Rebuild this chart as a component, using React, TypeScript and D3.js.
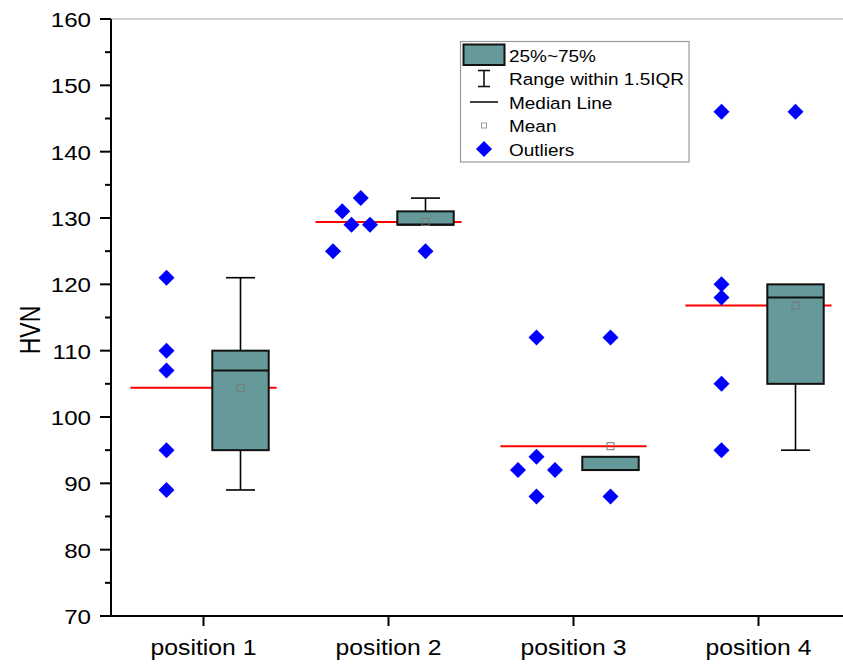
import React from "react";
import * as d3 from "d3";

const categories = ["position 1", "position 2", "position 3", "position 4"];
const dataPoints = [
  [121, 110, 107, 95, 89],
  [125, 131, 129, 133, 129],
  [112, 94, 92, 92, 88],
  [146, 120, 118, 105, 95],
];
const jitterSlots = [
  [0, 0, 0, 0, 0],
  [-2, -1, 0, 1, 2],
  [0, 0, -2, 2, 0],
  [0, 0, 0, 0, 0],
];
const q1 = [95, 129, 92, 105];
const median = [107, 129, 92, 118];
const q3 = [110, 131, 94, 120];
const whiskerLow = [89, 129, 92, 95];
const whiskerHigh = [121, 133, 94, 120];
const means = [104.4, 129.4, 95.6, 116.8];
const outliers = [[], [125], [112, 88], [146]];
const legendLabels = ["25%~75%", "Range within 1.5IQR", "Median Line", "Mean", "Outliers"];
const yTickLabels = [70, 80, 90, 100, 110, 120, 130, 140, 150, 160];

const W = 843;
const H = 664;
const left = 111;
const top = 19;
const bottom = 616;
const SX = 1.15;
const FONT = "'Liberation Sans', Arial, sans-serif";
const BOX_FILL = "#669999";

const x = d3.scaleLinear().domain([0.5, 4.5]).range([left, 851]);
const y = d3.scaleLinear().domain([70, 160]).range([bottom, top]);
const u = (v: number) => x(v) - x(0);

function T({ x: tx, y: ty, size, anchor = "start", children, rotate = 0, sx = SX }: any) {
  return (
    <g transform={`translate(${tx},${ty}) scale(${sx},1)${rotate ? ` rotate(${rotate})` : ""}`}>
      <text
        fontFamily={FONT}
        fontSize={size}
        textAnchor={anchor}
        dominantBaseline="central"
        fill="#000"
      >
        {children}
      </text>
    </g>
  );
}

function Diamond({ cx, cy, r = 8 }: any) {
  return <path d={`M${cx},${cy - r}L${cx + r},${cy}L${cx},${cy + r}L${cx - r},${cy}Z`} fill="#0000ff" />;
}

export default function App() {
  const minorTicks = d3.range(75, 160, 10);
  const lgX = 484;
  const rowY = (i: number) => 55 + i * 23.5;
  return (
    <svg width={W} height={H} style={{ position: "absolute", left: 0, top: 0, background: "#fff" }}>
      <rect x={0} y={0} width={W} height={H} fill="#fff" />
      {/* top frame */}
      <line x1={left} x2={W} y1={top} y2={top} stroke="#aaa" strokeWidth={1.2} />

      {/* red mean lines */}
      {categories.map((c, i) => (
        <line
          key={"m" + c}
          x1={x(i + 1) - u(0.395)}
          x2={x(i + 1) + u(0.395)}
          y1={y(means[i])}
          y2={y(means[i])}
          stroke="#ff0000"
          strokeWidth={2}
        />
      ))}

      {/* boxes */}
      {categories.map((c, i) => {
        const cx = x(i + 1 + 0.2);
        const bw = u(0.305);
        const cw = u(0.157);
        return (
          <g key={"b" + c}>
            {whiskerHigh[i] > q3[i] && (
              <g stroke="#000" strokeWidth={1.6}>
                <line x1={cx} x2={cx} y1={y(q3[i])} y2={y(whiskerHigh[i])} />
                <line x1={cx - cw / 2} x2={cx + cw / 2} y1={y(whiskerHigh[i])} y2={y(whiskerHigh[i])} />
              </g>
            )}
            {whiskerLow[i] < q1[i] && (
              <g stroke="#000" strokeWidth={1.6}>
                <line x1={cx} x2={cx} y1={y(q1[i])} y2={y(whiskerLow[i])} />
                <line x1={cx - cw / 2} x2={cx + cw / 2} y1={y(whiskerLow[i])} y2={y(whiskerLow[i])} />
              </g>
            )}
            <rect
              x={cx - bw / 2}
              y={y(q3[i])}
              width={bw}
              height={y(q1[i]) - y(q3[i])}
              fill={BOX_FILL}
              stroke="#111"
              strokeWidth={2}
            />
            <line x1={cx - bw / 2} x2={cx + bw / 2} y1={y(median[i])} y2={y(median[i])} stroke="#111" strokeWidth={2} />
            <rect x={cx - 3.5} y={y(means[i]) - 3.5} width={7} height={7} fill="none" stroke="#777" strokeWidth={1} />
            {outliers[i].map((v, k) => (
              <Diamond key={k} cx={cx} cy={y(v)} />
            ))}
          </g>
        );
      })}

      {/* data points */}
      {dataPoints.map((pts, i) =>
        pts.map((v, k) => (
          <Diamond key={`p${i}-${k}`} cx={x(i + 1 - 0.2 + jitterSlots[i][k] * 0.05)} cy={y(v)} />
        ))
      )}

      {/* y axis */}
      <line x1={left} x2={left} y1={top} y2={bottom} stroke="#000" strokeWidth={2} />
      {yTickLabels.map((t) => (
        <g key={"yt" + t}>
          <line x1={left - 11} x2={left} y1={y(t)} y2={y(t)} stroke="#000" strokeWidth={2} />
          <T x={left - 20} y={y(t) + 1} size={21} anchor="end">
            {t}
          </T>
        </g>
      ))}
      {minorTicks.map((t) => (
        <line key={"ym" + t} x1={left - 6} x2={left} y1={y(t)} y2={y(t)} stroke="#000" strokeWidth={2} />
      ))}
      <T x={30} y={330} size={23} anchor="middle" rotate={-90} sx={1.3}>
        HVN
      </T>

      {/* x axis */}
      <line x1={left - 11} x2={W} y1={bottom} y2={bottom} stroke="#000" strokeWidth={2} />
      {categories.map((c, i) => (
        <g key={"xt" + c}>
          <line x1={x(i + 1)} x2={x(i + 1)} y1={bottom} y2={bottom + 10} stroke="#000" strokeWidth={2} />
          <T x={x(i + 1)} y={648} size={21.5} anchor="middle">
            {c}
          </T>
        </g>
      ))}

      {/* legend */}
      <rect x={460.5} y={41.5} width={228.5} height={120.5} fill="#fff" stroke="#999" strokeWidth={1.2} />
      <rect x={463.5} y={44.5} width={41} height={20.5} fill={BOX_FILL} stroke="#111" strokeWidth={2} />
      <g stroke="#111" strokeWidth={1.6}>
        <line x1={lgX} x2={lgX} y1={rowY(1) - 8} y2={rowY(1) + 8} />
        <line x1={lgX - 6} x2={lgX + 6} y1={rowY(1) - 8} y2={rowY(1) - 8} />
        <line x1={lgX - 6} x2={lgX + 6} y1={rowY(1) + 8} y2={rowY(1) + 8} />
        <line x1={470} x2={498} y1={rowY(2)} y2={rowY(2)} />
      </g>
      <rect x={lgX - 2.5} y={rowY(3) - 2.5} width={5} height={5} fill="none" stroke="#999" strokeWidth={1} />
      <Diamond cx={lgX} cy={rowY(4)} r={8} />
      {legendLabels.map((l, i) => (
        <T key={l} x={509} y={rowY(i) + 1} size={16.5}>
          {l}
        </T>
      ))}
    </svg>
  );
}
